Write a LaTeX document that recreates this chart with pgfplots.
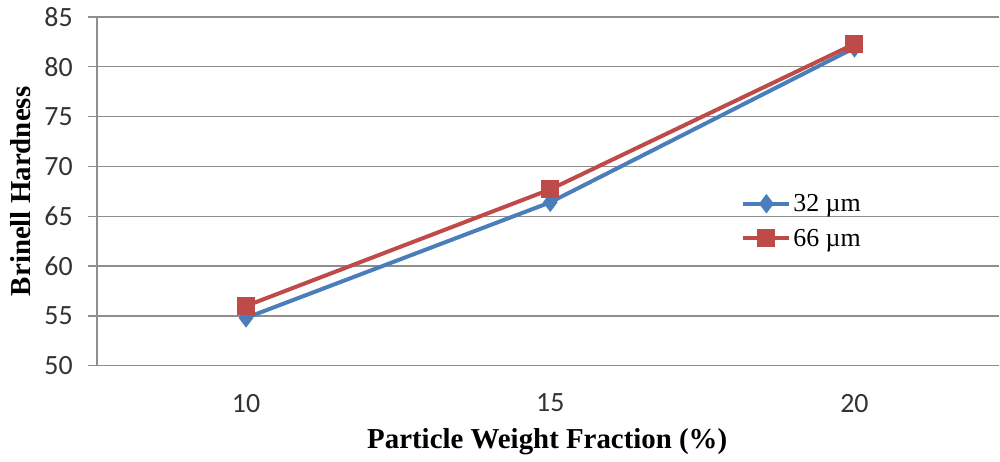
\documentclass[border=0pt]{standalone}
\usepackage{fontspec}
\setmainfont{Liberation Serif}
\newfontfamily\tickfont{Carlito}
\usepackage{pgfplots}
\pgfplotsset{compat=1.18}
\definecolor{bblue}{HTML}{4A7EBB}
\definecolor{rred}{HTML}{BE4B48}
\definecolor{gridgray}{HTML}{8E8E8E}
\begin{document}
\begin{tikzpicture}
\begin{axis}[
  at={(97bp,96bp)}, anchor=south west,
  scale only axis, width=903bp, height=349bp,
  xmin=-0.49, xmax=2.476, ymin=50, ymax=85,
  xtick={0,1,2}, xticklabels={10,15,20},
  ytick={50,55,...,85},
  axis x line*=bottom, axis y line*=left,
  axis line style={gridgray, line width=1.4bp},
  ymajorgrids, grid style={gridgray, line width=1.2bp},
  x tick style={draw=none},
  y tick style={gridgray, line width=1.2bp},
  major tick length=9bp, tick align=outside,
  /pgf/number format/assume math mode=true,
  ticklabel style={font=\tickfont\fontsize{28}{30}\selectfont, text=black!80},
  yticklabel style={inner sep=0pt, xshift=-15bp},
  xticklabel style={inner sep=0pt, yshift=-19bp},
  xlabel={\textbf{Particle Weight Fraction (\%)}},
  ylabel={\textbf{Brinell Hardness}},
  label style={font=\fontsize{29}{32}\selectfont},
  xlabel style={at={(axis cs:0.99,50)}, anchor=center, yshift=-76bp},
  ylabel style={at={(axis description cs:0,0.5)}, anchor=center, yshift=76bp},
  legend style={at={(axis description cs:0.714,0.415)}, anchor=west, draw=none, fill=none,
    font=\fontsize{26}{28}\selectfont, row sep=12bp, inner sep=0pt,
    /tikz/every even column/.append style={column sep=8bp}},
  legend cell align=left,
  legend image code/.code={\draw[mark repeat=2,mark phase=2] plot coordinates {(0bp,0bp) (23bp,0bp) (46bp,0bp)};},
  clip=false,
]
\addplot[bblue, line width=4bp, mark=diamond*, mark size=6.5bp, mark options={solid}] coordinates {(0,54.8) (1,66.4) (2,81.9)};
\addlegendentry{32 µm}
\addplot[rred, line width=4bp, mark=square*, mark size=7bp, mark options={solid}] coordinates {(0,56.0) (1,67.7) (2,82.3)};
\addlegendentry{66 µm}
\end{axis}
\path[use as bounding box] (0,0) rectangle (1000bp,462bp);
\end{tikzpicture}
\end{document}
